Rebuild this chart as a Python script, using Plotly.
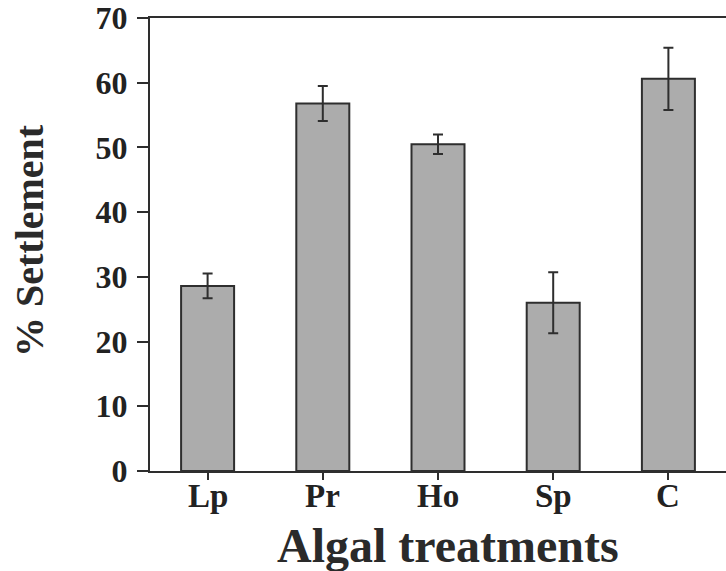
import plotly.graph_objects as go

categories = ["Lp", "Pr", "Ho", "Sp", "C"]
settlement = [28.6, 56.8, 50.5, 26.0, 60.6]
errors = [1.9, 2.7, 1.5, 4.7, 4.8]
y_ticks = [0, 10, 20, 30, 40, 50, 60, 70]

FONT = "Liberation Serif"
INK = "#2e2e2e"
TXT = "#222222"

fig = go.Figure()
fig.add_trace(go.Bar(
    x=list(range(len(categories))),
    y=settlement,
    width=0.46,
    marker=dict(color="#acacac", line=dict(color=INK, width=2)),
    error_y=dict(type="data", array=errors, visible=True,
                 color=INK, thickness=2, width=5),
    showlegend=False,
))

fig.update_layout(
    width=726, height=571,
    margin=dict(l=150, r=0, t=18, b=100),
    plot_bgcolor="white", paper_bgcolor="white",
)

fig.update_xaxes(
    range=[-0.5, 4.5],
    tickmode="array",
    tickvals=list(range(len(categories))),
    ticktext=[""] * len(categories),
    ticks="outside", ticklen=7, tickwidth=2, tickcolor=INK,
    showline=True, linecolor=INK, linewidth=2, mirror=True,
    showgrid=False, zeroline=False,
)
fig.update_yaxes(
    range=[0, 70],
    tickmode="array", tickvals=y_ticks,
    ticks="outside", ticklen=11, tickwidth=2, tickcolor=INK,
    showline=True, linecolor=INK, linewidth=2,
    showgrid=False, zeroline=False,
    tickfont=dict(family=FONT, size=32, color=TXT, weight="bold"),
    ticklabelstandoff=3,
)

# category tick labels (placed at the category positions on the x axis)
for i, cat in enumerate(categories):
    fig.add_annotation(
        text=cat, xref="x", yref="paper",
        x=i, y=-(476 - 471) / 453,
        xanchor="center", yanchor="top", showarrow=False,
        font=dict(family=FONT, size=33, color=TXT, weight="bold"),
    )

fig.add_annotation(
    text="Algal treatments", xref="paper", yref="paper",
    x=(448 - 150) / 576, y=-(545 - 471) / 453,
    xanchor="center", yanchor="middle", showarrow=False,
    font=dict(family=FONT, size=48, color="#2a2a2a", weight="bold"),
)
fig.add_annotation(
    text="% Settlement", xref="paper", yref="paper",
    x=(30 - 150) / 576, y=(471 - 241) / 453,
    xanchor="center", yanchor="middle", showarrow=False, textangle=-90,
    font=dict(family=FONT, size=40, color="#2a2a2a", weight="bold"),
)

fig.write_html("out.html")
